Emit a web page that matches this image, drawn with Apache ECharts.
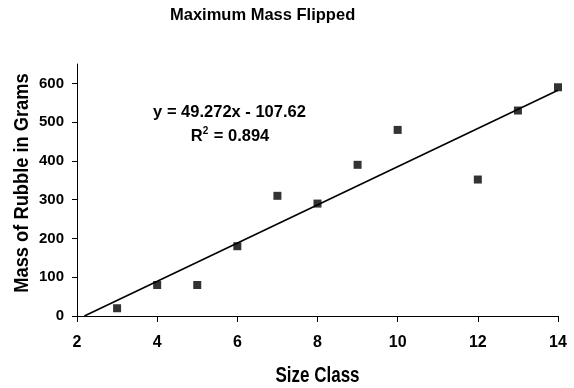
<!DOCTYPE html>
<html><head><meta charset="utf-8">
<script src="https://cdn.jsdelivr.net/npm/echarts@6/dist/echarts.min.js"></script>
<style>html,body{margin:0;padding:0;background:#fff}#c{width:574px;height:388px}</style>
</head><body><div id="c"></div>
<script>
var sizeClass = [3, 4, 5, 6, 7, 8, 9, 10, 12, 13, 14];
var massGrams = [20, 80, 80, 180, 310, 290, 390, 480, 352, 530, 590];
var trendX = [2.184, 14];
var trendY = [0, 582.2];
var xTicks = [2, 4, 6, 8, 10, 12, 14];
var yTicks = [0, 100, 200, 300, 400, 500, 600];

var FONT = '"Liberation Sans", Arial, sans-serif';
var chart = echarts.init(document.getElementById('c'));
chart.setOption({
  animation: false,
  backgroundColor: '#fff',
  title: {
    text: 'Maximum Mass Flipped', left: 170, top: 7, padding: 0,
    textStyle: {fontFamily: FONT, fontWeight: 'bold', fontSize: 16.5, color: '#000'}
  },
  grid: {left: 77, right: 16, top: 64, bottom: 72},
  xAxis: {
    type: 'value', min: 2, max: 14, interval: 2,
    axisLine: {lineStyle: {color: '#000', width: 1}},
    axisTick: {show: true, length: 6, lineStyle: {color: '#000'}},
    axisLabel: {fontFamily: FONT, fontWeight: 'bold', fontSize: 16, color: '#000', margin: 19},
    splitLine: {show: false}
  },
  yAxis: {
    type: 'value', min: 0, max: 650,
    axisLine: {show: true, lineStyle: {color: '#000', width: 1}},
    axisTick: {show: true, length: 5, lineStyle: {color: '#000'}, customValues: yTicks},
    axisLabel: {fontFamily: FONT, fontWeight: 'bold', fontSize: 15, color: '#000', margin: 13, customValues: yTicks},
    splitLine: {show: false}
  },
  series: [
    {
      type: 'line', data: trendX.map(function(x, i){ return [x, trendY[i]]; }),
      showSymbol: false, symbol: 'none', lineStyle: {color: '#000', width: 1.6}, z: 2
    },
    {
      type: 'scatter', data: sizeClass.map(function(x, i){ return [x, massGrams[i]]; }),
      symbol: 'rect', symbolSize: 8, itemStyle: {color: '#000'}, z: 3
    }
  ],
  graphic: [
    {
      type: 'text', x: 229.5, y: 112,
      style: {
        text: 'y = 49.272x - 107.62',
        align: 'center', verticalAlign: 'middle',
        font: 'bold 16.5px ' + FONT, fill: '#000'
      }
    },
    {
      type: 'text', x: 230, y: 136,
      style: {
        text: '{r|R}{s|2}{r| = 0.894}',
        align: 'center', verticalAlign: 'middle',
        rich: {
          r: {fontFamily: FONT, fontWeight: 'bold', fontSize: 16.5, fill: '#000', lineHeight: 20},
          s: {fontFamily: FONT, fontWeight: 'bold', fontSize: 10, fill: '#000', lineHeight: 20, verticalAlign: 'top', padding: [0, 1, 8, 0]}
        }
      }
    },
    {
      type: 'text', x: 317.5, y: 376, scaleY: 1.25,
      style: {
        text: 'Size Class', align: 'center', verticalAlign: 'middle',
        font: 'bold 17px ' + FONT, fill: '#000'
      }
    },
    {
      type: 'text', x: 22.5, y: 183, rotation: Math.PI / 2, scaleY: 1.12,
      style: {
        text: 'Mass of Rubble in Grams', align: 'center', verticalAlign: 'middle',
        font: 'bold 18.3px ' + FONT, fill: '#000'
      }
    }
  ]
});
</script></body></html>
